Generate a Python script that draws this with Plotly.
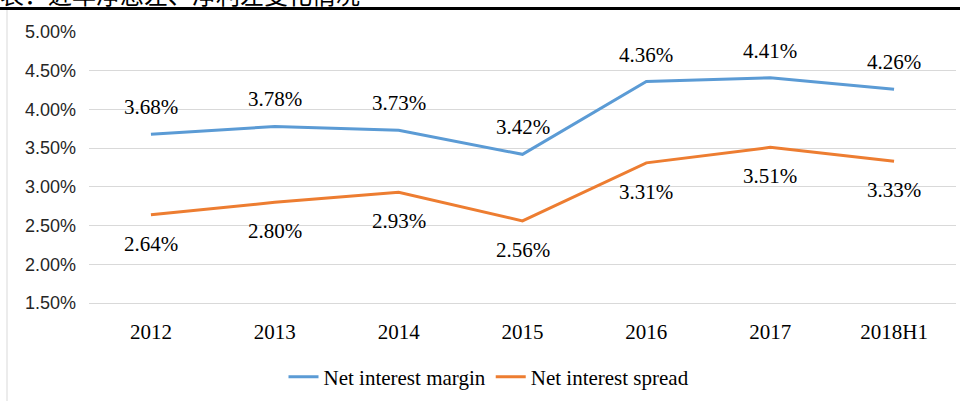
import plotly.graph_objects as go

categories = ["2012", "2013", "2014", "2015", "2016", "2017", "2018H1"]
net_interest_margin = [3.68, 3.78, 3.73, 3.42, 4.36, 4.41, 4.26]
net_interest_spread = [2.64, 2.80, 2.93, 2.56, 3.31, 3.51, 3.33]
y_ticks = [1.5, 2.0, 2.5, 3.0, 3.5, 4.0, 4.5, 5.0]
y_tick_labels = [f"{v:.2f}%" for v in y_ticks]
title_fragment = "表：近年净息差、净利差变化情况"

W, H = 960, 401
L, R, T, B = 89, 4, 32, 98
pw, ph = W - L - R, H - T - B

def px_x(p):
    return (p - L) / pw

def px_y(p):
    return (H - B - p) / ph

BLUE = "#5B9BD5"
ORANGE = "#ED7D31"
SERIF = "Liberation Serif"

fig = go.Figure()
fig.add_trace(go.Scatter(x=categories, y=net_interest_margin, mode="lines",
                         name="Net interest margin",
                         line=dict(color=BLUE, width=3), hoverinfo="skip"))
fig.add_trace(go.Scatter(x=categories, y=net_interest_spread, mode="lines",
                         name="Net interest spread",
                         line=dict(color=ORANGE, width=3), hoverinfo="skip"))

annotations = []
for i, v in enumerate(net_interest_margin):
    annotations.append(dict(x=i, y=v, text=f"{v:.2f}%", showarrow=False,
                            yshift=27, yanchor="middle", xanchor="center",
                            font=dict(family=SERIF, size=21, color="#000000")))
for i, v in enumerate(net_interest_spread):
    annotations.append(dict(x=i, y=v, text=f"{v:.2f}%", showarrow=False,
                            yshift=-29, yanchor="middle", xanchor="center",
                            font=dict(family=SERIF, size=21, color="#000000")))
annotations.append(dict(xref="paper", yref="paper", x=px_x(-2), y=px_y(13),
                        xanchor="left", yanchor="bottom", showarrow=False,
                        text=title_fragment,
                        font=dict(family="Noto Sans CJK SC", size=24, color="#000000")))

shapes = [
    dict(type="line", xref="paper", yref="paper", x0=px_x(0), x1=px_x(960),
         y0=px_y(8.5), y1=px_y(8.5), line=dict(color="#000000", width=3)),
    dict(type="line", xref="paper", yref="paper", x0=px_x(7), x1=px_x(7),
         y0=px_y(10), y1=px_y(401), line=dict(color="#d9d9d9", width=1)),
]

fig.update_layout(
    width=W, height=H,
    margin=dict(l=L, r=R, t=T, b=B, pad=0),
    paper_bgcolor="white", plot_bgcolor="white",
    showlegend=True,
    legend=dict(orientation="h", x=px_x(489), xanchor="center",
                y=px_y(377), yanchor="middle",
                font=dict(family=SERIF, size=21, color="#000000"),
                itemwidth=30, tracegroupgap=0),
    annotations=annotations,
    shapes=shapes,
    xaxis=dict(type="category", range=[-0.5, len(categories) - 0.5],
               showgrid=False, showline=True,
               linecolor="#d9d9d9", linewidth=1,
               ticks="", tickfont=dict(family=SERIF, size=21, color="#000000"),
               ticklabelstandoff=10, fixedrange=True),
    yaxis=dict(range=[1.4999, 5.0001], tickvals=y_ticks, ticktext=y_tick_labels,
               showgrid=True, gridcolor="#d9d9d9", gridwidth=1.3,
               zeroline=False, showline=False, ticks="",
               tickfont=dict(family="Liberation Sans", size=18, color="#262626"),
               ticklabelstandoff=12, fixedrange=True),
)

fig.write_html("out.html")
